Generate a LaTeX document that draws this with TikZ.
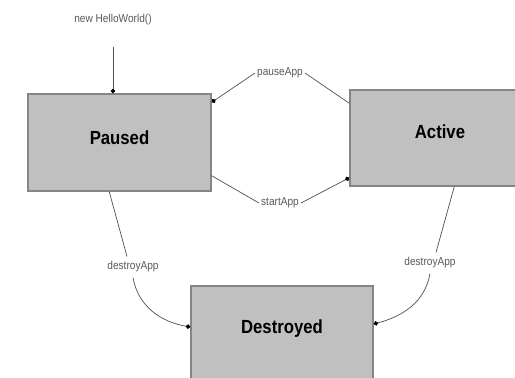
\documentclass[tikz,border=0pt]{standalone}
\usepackage{fontspec}
\setmainfont{Liberation Sans}
\newfontfamily\narrowfont[FakeStretch=0.88]{Liberation Sans}
\usetikzlibrary{arrows.meta,calc}
\definecolor{boxfill}{HTML}{C0C0C0}
\definecolor{boxline}{HTML}{858585}
\definecolor{wire}{HTML}{505050}
\begin{document}
\begin{tikzpicture}[x=1pt,y=1pt,
  state/.style={draw=boxline, line width=1.5pt, fill=boxfill, text height=14pt, text depth=9pt,
    font=\narrowfont\bfseries\fontsize{19}{21}\selectfont},
  lbl/.style={fill=white, inner xsep=2pt, inner ysep=5pt, text=black!65,
    font=\narrowfont\fontsize{11.5}{13}\selectfont},
  trans/.style={draw=wire, line width=0.7pt, -{Circle[length=4.5pt,black]}}]
\useasboundingbox (0,0) rectangle (515,378);
\clip (0,0) rectangle (515,378);
\node[state, minimum width=183, minimum height=97] (paused) at (119.5,235.5) {Paused};
\node[state, minimum width=180, minimum height=96, text depth=12pt] (active) at (440,240) {Active};
\node[state, minimum width=182, minimum height=100, text depth=18pt] (destroyed) at (282,42) {Destroyed};
\node[lbl] (new) at (113,358) {new HelloWorld()};
\node[lbl] (pause) at (280,305) {pauseApp};
\node[lbl] (start) at (280,175) {startApp};
\node[lbl] (killp) at (133,111) {destroyApp};
\node[lbl] (killa) at (430,115) {destroyApp};
\draw[trans, shorten <=16pt] (new) -- (new |- paused.north);
\draw[trans] ($(active.north west)+(0,-14)$) -- (pause.east) (pause.west) -- ($(paused.north east)+(0,-9)$);
\draw[trans] ($(paused.south east)+(0,16)$) -- (start.west) (start.east) -- ($(active.south west)+(0,9)$);
\draw[trans] ($(paused.south west)+(82,0)$) -- ($(killp.north)+(-6,0)$) (killp.south) to[out=-80,in=170] ($(destroyed.west)+(0,9)$);
\draw[trans] ($(active.south west)+(105,0)$) -- ($(killa.north)+(6,0)$) (killa.south) to[out=-100,in=15] ($(destroyed.east)+(0,12)$);
\end{tikzpicture}
\end{document}
